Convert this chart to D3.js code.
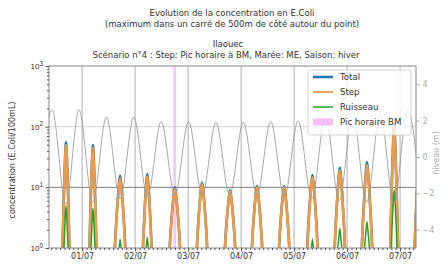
<!DOCTYPE html>
<html>
<head>
<meta charset="utf-8">
<script src="https://cdn.jsdelivr.net/npm/d3@7"></script>
<style>
  body { margin: 0; background: #fff; }
  svg { font-family: "DejaVu Sans", sans-serif; }
</style>
</head>
<body>
<div id="chart"></div>
<script>
// times are hours from 01/07 00:00
const tideHours = [-19.8, -13.6, -7.4, -1.4, 4.8, 11.0, 17.2, 23.4, 29.6, 35.8, 42.0, 48.2, 54.4, 60.6, 66.8,
  73.0, 79.2, 85.4, 91.6, 97.8, 104.0, 110.2, 116.4, 122.6, 128.8, 135.0, 141.2, 147.4, 153.6];
const tideLevels = [-2.5, 2.6, -2.6, 2.6, -2.5, 2.2, -2.3, 2.2, -2.2, 1.95, -2.1, 1.95, -2.1, 1.9, -2.1,
  1.9, -2.1, 1.95, -2.2, 2.0, -2.3, 2.25, -2.4, 2.3, -2.5, 2.4, -2.6, 2.6, -2.7];

// concentration peaks around each low tide
const peakHours = [-7.3, 4.9, 17.2, 29.5, 42.0, 54.3, 67.0, 79.2, 91.5, 104.3, 116.7, 129.0, 141.3, 153.6];
const peakOffsets = [-3, -2, -1, -0.5, 0, 0.5, 1, 2, 3];
const totalPeaks = [
  [0.01, 0.23, 6.9, 25, 55, 25, 6.9, 0.23, 0.01],
  [0.01, 0.24, 6.6, 23, 50, 23, 6.6, 0.24, 0.01],
  [0.37, 1.85, 6.9, 11.4, 15.5, 11.4, 6.9, 1.85, 0.37],
  [0.12, 1.0, 5.7, 11, 16.5, 11, 5.7, 1.0, 0.12],
  [0.43, 1.7, 5.1, 7.7, 10, 7.7, 5.1, 1.7, 0.43],
  [0.4, 1.75, 5.8, 9.1, 12, 9.1, 5.8, 1.75, 0.4],
  [0.45, 1.64, 4.7, 7.0, 9, 7.0, 4.7, 1.64, 0.45],
  [0.42, 1.7, 5.3, 8.1, 10.5, 8.1, 5.3, 1.7, 0.42],
  [0.42, 1.7, 5.3, 8.1, 10.5, 8.1, 5.3, 1.7, 0.42],
  [0.36, 1.9, 7.1, 11.8, 16, 11.8, 7.1, 1.9, 0.36],
  [0.33, 2.0, 8.6, 15, 21, 15, 8.6, 2.0, 0.33],
  [0.3, 2.1, 10, 18, 26, 18, 10, 2.1, 0.3],
  [0.01, 0.47, 14, 50, 110, 50, 14, 0.47, 0.01],
  [1.2, 8, 20, 30, 40, 30, 20, 8, 1.2]
];
const stepPeaks = [
  [0.01, 0.22, 6.5, 23, 50, 23, 6.5, 0.22, 0.01],
  [0.01, 0.23, 6.2, 21, 45, 21, 6.2, 0.23, 0.01],
  [0.36, 1.8, 6.4, 10.3, 14, 10.3, 6.4, 1.8, 0.36],
  [0.12, 0.95, 5.4, 10.1, 15, 10.1, 5.4, 0.95, 0.12],
  [0.42, 1.65, 4.9, 7.4, 9.5, 7.4, 4.9, 1.65, 0.42],
  [0.4, 1.7, 5.6, 8.7, 11.4, 8.7, 5.6, 1.7, 0.4],
  [0.45, 1.6, 4.6, 6.8, 8.6, 6.8, 4.6, 1.6, 0.45],
  [0.43, 1.7, 5.1, 7.7, 10, 7.7, 5.1, 1.7, 0.43],
  [0.43, 1.7, 5.1, 7.7, 10, 7.7, 5.1, 1.7, 0.43],
  [0.37, 1.8, 6.7, 10.8, 14.6, 10.8, 6.7, 1.8, 0.37],
  [0.34, 1.9, 8.0, 13.7, 19, 13.7, 8.0, 1.9, 0.34],
  [0.31, 2.0, 9.2, 16.3, 23, 16.3, 9.2, 2.0, 0.31],
  [0.01, 0.45, 13, 46, 100, 46, 13, 0.45, 0.01],
  [1.1, 7.5, 18, 27, 36, 27, 18, 7.5, 1.1]
];
const ruisseauPeaks = [
  [0.01, 0.05, 0.8, 2.4, 5, 2.4, 0.8, 0.05, 0.01],
  [0.01, 0.05, 0.8, 2.2, 4.5, 2.2, 0.8, 0.05, 0.01],
  [0.01, 0.05, 0.4, 0.9, 1.4, 0.9, 0.4, 0.05, 0.01],
  [0.01, 0.05, 0.45, 1.0, 1.5, 1.0, 0.45, 0.05, 0.01],
  [0.01, 0.02, 0.1, 0.3, 0.5, 0.3, 0.1, 0.02, 0.01],
  [0.01, 0.02, 0.12, 0.35, 0.6, 0.35, 0.12, 0.02, 0.01],
  [0.01, 0.02, 0.1, 0.25, 0.4, 0.25, 0.1, 0.02, 0.01],
  [0.01, 0.02, 0.1, 0.3, 0.5, 0.3, 0.1, 0.02, 0.01],
  [0.01, 0.02, 0.1, 0.3, 0.5, 0.3, 0.1, 0.02, 0.01],
  [0.01, 0.05, 0.4, 0.9, 1.4, 0.9, 0.4, 0.05, 0.01],
  [0.01, 0.05, 0.9, 1.4, 2.1, 1.4, 0.9, 0.05, 0.01],
  [0.01, 0.05, 1.1, 1.8, 2.7, 1.8, 1.1, 0.05, 0.01],
  [0.01, 0.1, 2.0, 5.0, 9, 5.0, 2.0, 0.1, 0.01],
  [0.01, 0.1, 1, 2, 3, 2, 1, 0.1, 0.01]
];
const picSpan = [41.3, 42.6];
const concTicks = [1, 10, 100, 1000];
const tideTicks = [-4, -2, 0, 2, 4];
const seriesNames = ["Total", "Step", "Ruisseau", "Pic horaire BM"];

const W = 448, H = 265;
const margin = {top: 66, right: 32, bottom: 17, left: 49},
    width = W - margin.left - margin.right,
    height = H - margin.top - margin.bottom;

const base = Date.UTC(2021, 6, 1);
const toDate = h => new Date(base + h * 3600e3);

const svg = d3.select("#chart").append("svg")
    .attr("width", W).attr("height", H);

const g = svg.append("g").attr("transform", `translate(${margin.left},${margin.top})`);

const x = d3.scaleUtc().domain([toDate(-15), toDate(151.2)]).range([0, width]);
const y = d3.scaleLog().domain([1, 1000]).range([height, 0]);
const y2 = d3.scaleLinear().domain([-5, 5]).range([height, 0]);

svg.append("defs").append("clipPath").attr("id", "clip")
  .append("rect").attr("width", width).attr("height", height);

// grid
const days = x.ticks(d3.utcDay.every(1));
g.append("g").selectAll("line").data(days).join("line")
    .attr("x1", d => x(d)).attr("x2", d => x(d))
    .attr("y1", 0).attr("y2", height)
    .attr("stroke", "#a8a8a8").attr("stroke-width", 0.9);
g.append("line")
    .attr("x1", 0).attr("x2", width).attr("y1", y(100)).attr("y2", y(100))
    .attr("stroke", "#d0d0d0").attr("stroke-width", 0.9);
g.append("line")
    .attr("x1", 0).attr("x2", width).attr("y1", y(10)).attr("y2", y(10))
    .attr("stroke", "#808080").attr("stroke-width", 1);

const plot = g.append("g").attr("clip-path", "url(#clip)");

// pic horaire BM
plot.append("rect")
    .attr("x", x(toDate(picSpan[0])))
    .attr("width", x(toDate(picSpan[1])) - x(toDate(picSpan[0])))
    .attr("y", 0).attr("height", height)
    .attr("fill", "violet").attr("opacity", 0.45);

function toPoints(rows) {
  return peakHours.flatMap((h, i) => peakOffsets.map((o, j) => ({t: toDate(h + o), v: rows[i][j]})));
}
const concLine = d3.line().x(d => x(d.t)).y(d => y(d.v)).curve(d3.curveMonotoneX);

plot.append("path").datum(toPoints(totalPeaks))
    .attr("d", concLine).attr("fill", "none")
    .attr("stroke", "#1f77b4").attr("stroke-width", 2.6);
plot.append("path").datum(toPoints(stepPeaks))
    .attr("d", concLine).attr("fill", "none")
    .attr("stroke", "#f09a45").attr("stroke-width", 2.6);
plot.append("path").datum(toPoints(ruisseauPeaks))
    .attr("d", concLine).attr("fill", "none")
    .attr("stroke", "#2ca02c").attr("stroke-width", 1.5);

// tide on the twin axis
const tide = tideHours.map((h, i) => ({t: toDate(h), v: tideLevels[i]}));
plot.append("path").datum(tide)
    .attr("d", d3.line().x(d => x(d.t)).y(d => y2(d.v)).curve(d3.curveMonotoneX))
    .attr("fill", "none").attr("stroke", "#999").attr("stroke-width", 1).attr("opacity", 0.85);

// frame
g.append("rect").attr("width", width).attr("height", height)
    .attr("fill", "none").attr("stroke", "#888").attr("stroke-width", 1);

// x axis
const xAxis = g.append("g").attr("transform", `translate(0,${height})`);
xAxis.call(d3.axisBottom(x).tickValues(days).tickFormat(d3.utcFormat("%d/%m")).tickSize(3.5).tickPadding(2));
xAxis.append("g").call(d3.axisBottom(x).tickValues(x.ticks(d3.utcHour.every(2))).tickFormat("").tickSize(2));
xAxis.selectAll(".domain").remove();
xAxis.selectAll("line").attr("stroke", "#555");
xAxis.selectAll("text").attr("font-size", 8).attr("fill", "#333").attr("font-family", "DejaVu Sans");

// left axis
const yAxis = g.append("g");
yAxis.call(d3.axisLeft(y).tickValues(concTicks).tickFormat("").tickSize(3.5));
yAxis.append("g").call(d3.axisLeft(y).tickValues(y.ticks().filter(v => !concTicks.includes(v))).tickFormat("").tickSize(2));
yAxis.selectAll(".domain").remove();
yAxis.selectAll("line").attr("stroke", "#555");
const yLab = yAxis.selectAll(".lab").data(concTicks).join("text")
    .attr("x", -6).attr("y", d => y(d) + 3)
    .attr("text-anchor", "end").attr("font-size", 8).attr("fill", "#333");
yLab.append("tspan").text("10");
yLab.append("tspan").attr("dy", -3.5).attr("font-size", 6.5).text(d => Math.round(Math.log10(d)));

// right axis
const y2Axis = g.append("g").attr("transform", `translate(${width},0)`);
y2Axis.call(d3.axisRight(y2).tickValues(tideTicks).tickFormat(d3.format("d")).tickSize(3.5).tickPadding(3));
y2Axis.selectAll(".domain").remove();
y2Axis.selectAll("line").attr("stroke", "#aaa");
y2Axis.selectAll("text").attr("font-size", 8).attr("fill", "#aaa").attr("font-family", "DejaVu Sans");

// axis labels
svg.append("text")
    .attr("transform", `translate(15,${margin.top + height / 2 + 3}) rotate(-90)`)
    .attr("text-anchor", "middle").attr("font-size", 8).attr("fill", "#333")
    .text("concentration (E.Coli/100mL)");
svg.append("text")
    .attr("transform", `translate(439,${margin.top + height / 2 - 4}) rotate(-90)`)
    .attr("text-anchor", "middle").attr("font-size", 8).attr("fill", "#b0b0b0")
    .text("niveau (m)");

// titles
const titles = [
  {text: "Evolution de la concentration en E.Coli", x: 232, y: 15.5},
  {text: "(maximum dans un carré de 500m de côté autour du point)", x: 232, y: 27},
  {text: "Ilaouec", x: 228, y: 46.5},
  {text: "Scénario n°4 : Step: Pic horaire à BM, Marée: ME, Saison: hiver", x: 226, y: 58}
];
svg.selectAll(".title").data(titles).join("text")
    .attr("x", d => d.x).attr("y", d => d.y)
    .attr("text-anchor", "middle").attr("font-size", 8.5).attr("fill", "#333")
    .text(d => d.text);

// legend
const leg = svg.append("g").attr("transform", "translate(308,70)");
leg.append("rect").attr("width", 103).attr("height", 65).attr("rx", 2)
    .attr("fill", "#fff").attr("fill-opacity", 0.8).attr("stroke", "#ccc").attr("stroke-width", 0.8);
const legStyles = [
  {color: "#1f77b4", w: 2.6},
  {color: "#f5a65a", w: 2},
  {color: "#2ca02c", w: 1.5},
  {color: "violet", patch: true}
];
seriesNames.forEach((name, i) => {
  const cy = 7 + i * 15;
  const s = legStyles[i];
  if (s.patch) {
    leg.append("rect").attr("x", 5).attr("y", cy - 3.5).attr("width", 20).attr("height", 7)
        .attr("fill", s.color).attr("opacity", 0.5);
  } else {
    leg.append("line").attr("x1", 5).attr("x2", 25).attr("y1", cy).attr("y2", cy)
        .attr("stroke", s.color).attr("stroke-width", s.w);
  }
  leg.append("text").attr("x", 32).attr("y", cy + 3)
      .attr("font-size", 8.6).attr("fill", "#333").text(name);
});
</script>
</body>
</html>
